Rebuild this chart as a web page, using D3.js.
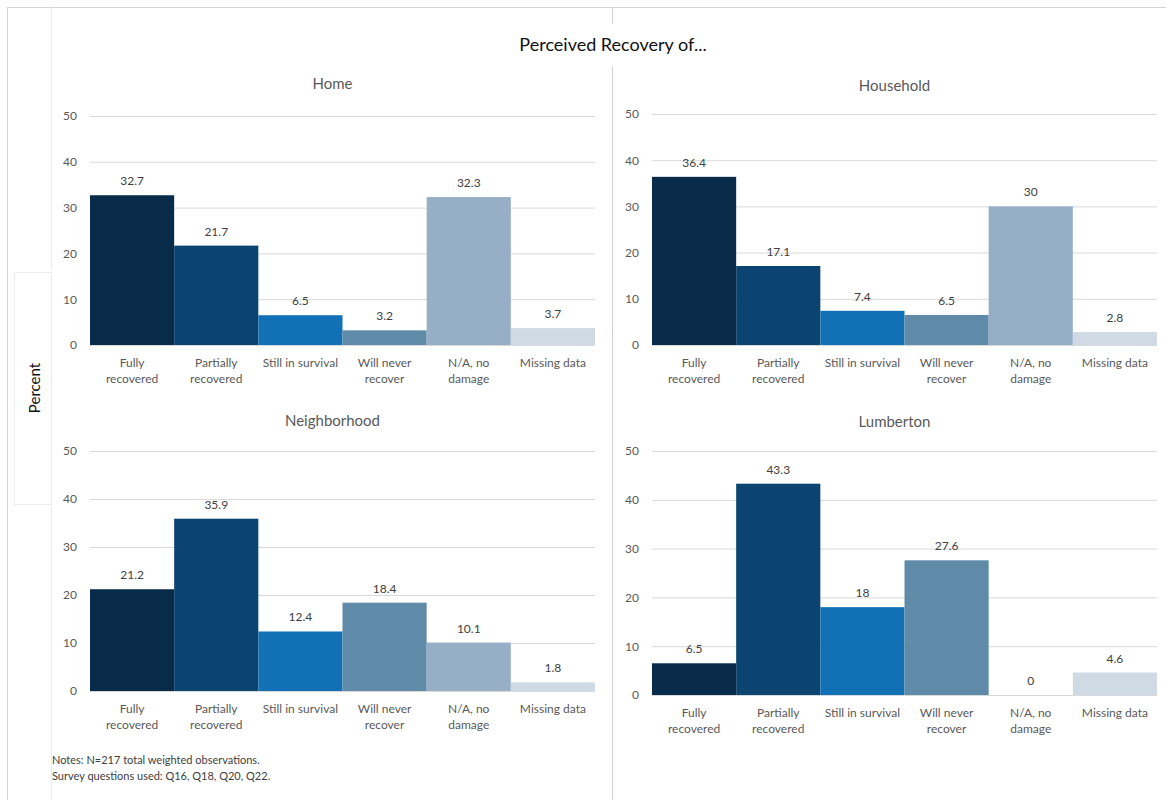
<!DOCTYPE html>
<html lang="en">
<head>
  <meta charset="UTF-8">
  <title>Perceived Recovery of...</title>
  <style>
    body { margin: 0; background: #fff; }
    text { font-family: Lato, "Open Sans", sans-serif; }
  </style>
</head>
<body>
  <script src="https://d3js.org/d3.v7.min.js"></script>
  <script>

    const categories = ['Fully recovered', 'Partially recovered', 'Still in survival', 'Will never recover', 'N/A, no damage', 'Missing data']
    const categoryLines = [['Fully', 'recovered'], ['Partially', 'recovered'], ['Still in survival'], ['Will never', 'recover'], ['N/A, no', 'damage'], ['Missing data']]
    const panelTitles = ['Home', 'Household', 'Neighborhood', 'Lumberton']
    const home = [32.7, 21.7, 6.5, 3.2, 32.3, 3.7]
    const household = [36.4, 17.1, 7.4, 6.5, 30, 2.8]
    const neighborhood = [21.2, 35.9, 12.4, 18.4, 10.1, 1.8]
    const lumberton = [6.5, 43.3, 18, 27.6, 0, 4.6]
    const yTicks = [0, 10, 20, 30, 40, 50]
    const colors = ['#082b4a', '#0b4470', '#1270b6', '#5f8ba8', '#97aec7', '#d0dae5']

    const width = 1166
    const height = 800

    const svg = d3.select('body')
      .append('svg')
      .attr('width', width)
      .attr('height', height)

    // frame lines
    const frame = svg.append('g').attr('stroke', '#d4d4d4').attr('fill', 'none')
    frame.append('line').attr('x1', 7.5).attr('x2', 7.5).attr('y1', 7).attr('y2', height)
    frame.append('line').attr('x1', 7).attr('x2', width).attr('y1', 7.5).attr('y2', 7.5)
    frame.append('line').attr('x1', 612.5).attr('x2', 612.5).attr('y1', 7).attr('y2', 24)
    frame.append('line').attr('x1', 612.5).attr('x2', 612.5).attr('y1', 66).attr('y2', height)
    frame.append('line').attr('x1', 51.5).attr('x2', 51.5).attr('y1', 7).attr('y2', 270).attr('stroke', '#ececec')
    frame.append('line').attr('x1', 51.5).attr('x2', 51.5).attr('y1', 505).attr('y2', height).attr('stroke', '#ececec')
    frame.append('rect').attr('x', 14.5).attr('y', 272.5).attr('width', 37).attr('height', 232).attr('stroke', '#ececec')

    svg.append('text')
      .attr('x', 613)
      .attr('y', 51)
      .attr('text-anchor', 'middle')
      .attr('font-size', 18)
      .attr('fill', '#111')
      .text('Perceived Recovery of...')

    svg.append('text')
      .attr('transform', 'translate(40, 388) rotate(-90)')
      .attr('text-anchor', 'middle')
      .attr('font-size', 15)
      .attr('fill', '#111')
      .text('Percent')

    const panels = [
      { title: panelTitles[0], values: home, x0: 90, x1: 595, yBase: 345, yTop: 116, titleY: 89 },
      { title: panelTitles[1], values: household, x0: 652, x1: 1157, yBase: 345, yTop: 114, titleY: 91 },
      { title: panelTitles[2], values: neighborhood, x0: 90, x1: 595, yBase: 691, yTop: 451, titleY: 426 },
      { title: panelTitles[3], values: lumberton, x0: 652, x1: 1157, yBase: 695, yTop: 451, titleY: 427 },
    ]

    panels.forEach(p => {
      const g = svg.append('g')
      const x = d3.scaleBand().domain(categories).range([p.x0, p.x1]).padding(0)
      const y = d3.scaleLinear().domain([0, 50]).range([p.yBase, p.yTop])

      g.append('text')
        .attr('x', (p.x0 + p.x1) / 2 - 10)
        .attr('y', p.titleY)
        .attr('text-anchor', 'middle')
        .attr('font-size', 15)
        .attr('fill', '#595959')
        .text(p.title)

      const yAxis = g.append('g')
        .attr('transform', `translate(${p.x0},0)`)
        .call(d3.axisLeft(y).tickValues(yTicks).tickSize(-(p.x1 - p.x0)).tickPadding(13))
      yAxis.select('.domain').remove()
      yAxis.selectAll('.tick line').attr('stroke', '#d9d9d9')
      yAxis.selectAll('.tick text')
        .attr('font-family', 'Lato, sans-serif')
        .attr('font-size', 12)
        .attr('fill', '#595959')

      g.selectAll('rect.bar')
        .data(p.values)
        .join('rect')
        .attr('class', 'bar')
        .attr('x', (d, i) => x(categories[i]))
        .attr('y', d => y(d))
        .attr('width', x.bandwidth())
        .attr('height', d => y(0) - y(d))
        .attr('fill', (d, i) => colors[i])

      g.selectAll('text.val')
        .data(p.values)
        .join('text')
        .attr('class', 'val')
        .attr('x', (d, i) => x(categories[i]) + x.bandwidth() / 2)
        .attr('y', d => y(d) - 10)
        .attr('text-anchor', 'middle')
        .attr('font-size', 12)
        .attr('fill', '#404040')
        .text(d => d)

      const labels = g.selectAll('text.cat')
        .data(categoryLines)
        .join('text')
        .attr('class', 'cat')
        .attr('x', (d, i) => x(categories[i]) + x.bandwidth() / 2)
        .attr('y', p.yBase + 22)
        .attr('text-anchor', 'middle')
        .attr('font-size', 12)
        .attr('fill', '#595959')
      labels.selectAll('tspan')
        .data((d, i) => d.map(s => ({ s, cx: x(categories[i]) + x.bandwidth() / 2 })))
        .join('tspan')
        .attr('x', d => d.cx)
        .attr('dy', (d, j) => j === 0 ? 0 : 16)
        .text(d => d.s)
    })

    svg.append('text')
      .attr('x', 52)
      .attr('y', 764)
      .attr('font-size', 11)
      .attr('fill', '#404040')
      .text('Notes: N=217 total weighted observations.')
    svg.append('text')
      .attr('x', 52)
      .attr('y', 780)
      .attr('font-size', 11)
      .attr('fill', '#404040')
      .text('Survey questions used: Q16, Q18, Q20, Q22.')

  </script>
</body>
</html>
